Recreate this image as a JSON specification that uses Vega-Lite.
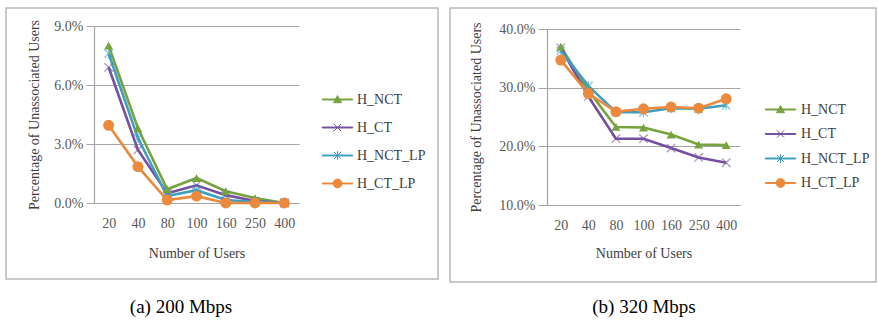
{
  "$schema": "https://vega.github.io/schema/vega-lite/v6.json",
  "padding": {"left": 5, "top": 7, "right": 0, "bottom": 0},
  "spacing": 10,
  "datasets": {
    "bw200": [
      {"users": "20", "series": "H_NCT", "value": 0.080},
      {"users": "40", "series": "H_NCT", "value": 0.038},
      {"users": "80", "series": "H_NCT", "value": 0.007},
      {"users": "100", "series": "H_NCT", "value": 0.0127},
      {"users": "160", "series": "H_NCT", "value": 0.006},
      {"users": "250", "series": "H_NCT", "value": 0.0025},
      {"users": "400", "series": "H_NCT", "value": 0.0},
      {"users": "20", "series": "H_CT", "value": 0.069},
      {"users": "40", "series": "H_CT", "value": 0.027},
      {"users": "80", "series": "H_CT", "value": 0.005},
      {"users": "100", "series": "H_CT", "value": 0.009},
      {"users": "160", "series": "H_CT", "value": 0.004},
      {"users": "250", "series": "H_CT", "value": 0.001},
      {"users": "400", "series": "H_CT", "value": 0.0},
      {"users": "20", "series": "H_NCT_LP", "value": 0.076},
      {"users": "40", "series": "H_NCT_LP", "value": 0.033},
      {"users": "80", "series": "H_NCT_LP", "value": 0.0035},
      {"users": "100", "series": "H_NCT_LP", "value": 0.0065},
      {"users": "160", "series": "H_NCT_LP", "value": 0.0015},
      {"users": "250", "series": "H_NCT_LP", "value": 0.0005},
      {"users": "400", "series": "H_NCT_LP", "value": 0.0},
      {"users": "20", "series": "H_CT_LP", "value": 0.0395},
      {"users": "40", "series": "H_CT_LP", "value": 0.0185},
      {"users": "80", "series": "H_CT_LP", "value": 0.0015},
      {"users": "100", "series": "H_CT_LP", "value": 0.0035},
      {"users": "160", "series": "H_CT_LP", "value": 0.0},
      {"users": "250", "series": "H_CT_LP", "value": 0.0},
      {"users": "400", "series": "H_CT_LP", "value": 0.0}
    ],
    "bw320": [
      {"users": "20", "series": "H_NCT", "value": 0.370},
      {"users": "40", "series": "H_NCT", "value": 0.295},
      {"users": "80", "series": "H_NCT", "value": 0.233},
      {"users": "100", "series": "H_NCT", "value": 0.232},
      {"users": "160", "series": "H_NCT", "value": 0.220},
      {"users": "250", "series": "H_NCT", "value": 0.203},
      {"users": "400", "series": "H_NCT", "value": 0.202},
      {"users": "20", "series": "H_CT", "value": 0.368},
      {"users": "40", "series": "H_CT", "value": 0.285},
      {"users": "80", "series": "H_CT", "value": 0.213},
      {"users": "100", "series": "H_CT", "value": 0.213},
      {"users": "160", "series": "H_CT", "value": 0.197},
      {"users": "250", "series": "H_CT", "value": 0.181},
      {"users": "400", "series": "H_CT", "value": 0.172},
      {"users": "20", "series": "H_NCT_LP", "value": 0.363},
      {"users": "40", "series": "H_NCT_LP", "value": 0.303},
      {"users": "80", "series": "H_NCT_LP", "value": 0.258},
      {"users": "100", "series": "H_NCT_LP", "value": 0.258},
      {"users": "160", "series": "H_NCT_LP", "value": 0.265},
      {"users": "250", "series": "H_NCT_LP", "value": 0.264},
      {"users": "400", "series": "H_NCT_LP", "value": 0.270},
      {"users": "20", "series": "H_CT_LP", "value": 0.347},
      {"users": "40", "series": "H_CT_LP", "value": 0.290},
      {"users": "80", "series": "H_CT_LP", "value": 0.259},
      {"users": "100", "series": "H_CT_LP", "value": 0.264},
      {"users": "160", "series": "H_CT_LP", "value": 0.267},
      {"users": "250", "series": "H_CT_LP", "value": 0.265},
      {"users": "400", "series": "H_CT_LP", "value": 0.281}
    ]
  },
  "config": {
    "view": {"stroke": "#b8b8b8", "strokeWidth": 1.5},
    "font": "Liberation Serif",
    "title": {"font": "Liberation Serif"},
    "axis": {
      "labelFont": "Liberation Serif",
      "titleFont": "Liberation Serif",
      "labelFontSize": 14,
      "titleFontSize": 14,
      "labelColor": "#595959",
      "titleColor": "#404040",
      "titleFontWeight": "normal",
      "tickColor": "#a6a6a6",
      "domainColor": "#a6a6a6",
      "gridColor": "#a6a6a6",
      "domainWidth": 1.2,
      "gridWidth": 1
    },
    "legend": {
      "labelFont": "Liberation Serif",
      "labelFontSize": 14,
      "labelColor": "#404040"
    }
  },
  "resolve": {"scale": {"color": "independent", "x": "independent", "y": "independent"}},
  "hconcat": [
    {
      "width": 432,
      "height": 271,
      "title": {"text": "(a) 200 Mbps", "orient": "bottom", "anchor": "middle", "offset": 19, "dx": -41, "fontSize": 19, "fontWeight": "normal", "color": "#000000"},
      "data": {"name": "bw200"},
      "encoding": {
        "x": {"field": "users", "type": "ordinal", "title": "Number of Users",
              "scale": {"type": "point", "domain": ["20", "40", "80", "100", "160", "250", "400"], "range": [88, 293], "padding": 0.5},
              "axis": {"offset": -76, "labelAngle": 0, "grid": false, "ticks": false, "labelPadding": 13, "titlePadding": 16}},
        "y": {"field": "value", "type": "quantitative", "title": "Percentage of Unassociated Users",
              "scale": {"domain": [0, 0.09], "range": [195, 18], "nice": false, "zero": false},
              "axis": {"offset": -88, "values": [0, 0.03, 0.06, 0.09], "format": ".1%", "grid": true, "ticks": true, "tickSize": 8, "labelPadding": 3, "titlePadding": 12}}
      },
      "layer": [
        {
          "mark": {"type": "line", "strokeWidth": 2.6},
          "encoding": {
            "color": {"field": "series", "type": "nominal",
              "scale": {"domain": ["H_NCT", "H_CT", "H_NCT_LP", "H_CT_LP"], "range": ["#77a33f", "#7451a0", "#3e9fbf", "#eb8a3c"]},
              "legend": {"title": null, "orient": "none", "legendX": 323, "legendY": 83, "padding": 0, "rowPadding": 12, "symbolSize": 256, "labelOffset": 11,
                "encode": {"symbols": {"update": {
                  "shape": {"signal": "datum.value === 'H_NCT' ? 'M-1.9,-0.06L1.9,-0.06L1.9,0.06L-1.9,0.06ZM0,-0.5L0.5,0.4L-0.5,0.4Z' : datum.value === 'H_CT' ? 'M-1.9,-0.06L1.9,-0.06L1.9,0.06L-1.9,0.06ZM-0.45,-0.45L0.45,0.45M-0.45,0.45L0.45,-0.45' : datum.value === 'H_NCT_LP' ? 'M-1.9,-0.06L1.9,-0.06L1.9,0.06L-1.9,0.06ZM-0.45,-0.45L0.45,0.45M-0.45,0.45L0.45,-0.45M0,-0.55L0,0.55' : 'M-1.9,-0.06L1.9,-0.06L1.9,0.06L-1.9,0.06ZM0.55,0A0.55,0.55,0,1,1,-0.55,0A0.55,0.55,0,1,1,0.55,0Z'"},
                  "fill": {"signal": "datum.value === 'H_NCT' ? '#77a33f' : datum.value === 'H_CT' ? '#7451a0' : datum.value === 'H_NCT_LP' ? '#3e9fbf' : '#eb8a3c'"},
                  "stroke": {"signal": "datum.value === 'H_NCT' ? '#77a33f' : datum.value === 'H_CT' ? '#7451a0' : datum.value === 'H_NCT_LP' ? '#3e9fbf' : '#eb8a3c'"},
                  "strokeWidth": {"value": 1},
                  "fillOpacity": {"value": 1},
                  "opacity": {"value": 1}
                }}}}
            }
          }
        },
        {
          "transform": [{"filter": "datum.series === 'H_CT'"}],
          "mark": {"type": "point", "filled": false, "shape": "M-1,-1L1,1M-1,1L1,-1", "size": 70, "color": "#7451a0", "strokeWidth": 1.3, "opacity": 0.6},
          "encoding": {}
        },
        {
          "transform": [{"filter": "datum.series === 'H_NCT_LP'"}],
          "mark": {"type": "point", "filled": false, "shape": "M-1,-1L1,1M-1,1L1,-1M0,-1.2L0,1.2", "size": 70, "color": "#3e9fbf", "strokeWidth": 1.3, "opacity": 0.6},
          "encoding": {}
        },
        {
          "transform": [{"filter": "datum.series === 'H_NCT'"}],
          "mark": {"type": "point", "filled": true, "shape": "triangle-up", "size": 80, "color": "#77a33f", "opacity": 1},
          "encoding": {}
        },
        {
          "transform": [{"filter": "datum.series === 'H_CT_LP'"}],
          "mark": {"type": "point", "filled": true, "shape": "circle", "size": 120, "color": "#eb8a3c", "opacity": 1},
          "encoding": {}
        }
      ]
    },
    {
      "width": 426,
      "height": 274,
      "title": {"text": "(b) 320 Mbps", "orient": "bottom", "anchor": "middle", "offset": 16, "dx": -19, "fontSize": 19, "fontWeight": "normal", "color": "#000000"},
      "data": {"name": "bw320"},
      "encoding": {
        "x": {"field": "users", "type": "ordinal", "title": "Number of Users",
              "scale": {"type": "point", "domain": ["20", "40", "80", "100", "160", "250", "400"], "range": [97, 290], "padding": 0.5},
              "axis": {"offset": -77, "labelAngle": 0, "grid": false, "ticks": false, "labelPadding": 13, "titlePadding": 14}},
        "y": {"field": "value", "type": "quantitative", "title": "Percentage of Unassociated Users",
              "scale": {"domain": [0.1, 0.4], "range": [197, 21], "nice": false, "zero": false},
              "axis": {"offset": -97, "values": [0.1, 0.2, 0.3, 0.4], "format": ".1%", "grid": true, "ticks": true, "tickSize": 9, "labelPadding": 3, "titlePadding": 15}}
      },
      "layer": [
        {
          "mark": {"type": "line", "strokeWidth": 2.6},
          "encoding": {
            "color": {"field": "series", "type": "nominal",
              "scale": {"domain": ["H_NCT", "H_CT", "H_NCT_LP", "H_CT_LP"], "range": ["#77a33f", "#7451a0", "#3e9fbf", "#eb8a3c"]},
              "legend": {"title": null, "orient": "none", "legendX": 322, "legendY": 93, "padding": 0, "rowPadding": 8.5, "symbolSize": 256, "labelOffset": 12,
                "encode": {"symbols": {"update": {
                  "shape": {"signal": "datum.value === 'H_NCT' ? 'M-1.9,-0.06L1.9,-0.06L1.9,0.06L-1.9,0.06ZM0,-0.5L0.5,0.4L-0.5,0.4Z' : datum.value === 'H_CT' ? 'M-1.9,-0.06L1.9,-0.06L1.9,0.06L-1.9,0.06ZM-0.45,-0.45L0.45,0.45M-0.45,0.45L0.45,-0.45' : datum.value === 'H_NCT_LP' ? 'M-1.9,-0.06L1.9,-0.06L1.9,0.06L-1.9,0.06ZM-0.45,-0.45L0.45,0.45M-0.45,0.45L0.45,-0.45M0,-0.55L0,0.55' : 'M-1.9,-0.06L1.9,-0.06L1.9,0.06L-1.9,0.06ZM0.55,0A0.55,0.55,0,1,1,-0.55,0A0.55,0.55,0,1,1,0.55,0Z'"},
                  "fill": {"signal": "datum.value === 'H_NCT' ? '#77a33f' : datum.value === 'H_CT' ? '#7451a0' : datum.value === 'H_NCT_LP' ? '#3e9fbf' : '#eb8a3c'"},
                  "stroke": {"signal": "datum.value === 'H_NCT' ? '#77a33f' : datum.value === 'H_CT' ? '#7451a0' : datum.value === 'H_NCT_LP' ? '#3e9fbf' : '#eb8a3c'"},
                  "strokeWidth": {"value": 1},
                  "fillOpacity": {"value": 1},
                  "opacity": {"value": 1}
                }}}}
            }
          }
        },
        {
          "transform": [{"filter": "datum.series === 'H_CT'"}],
          "mark": {"type": "point", "filled": false, "shape": "M-1,-1L1,1M-1,1L1,-1", "size": 70, "color": "#7451a0", "strokeWidth": 1.3, "opacity": 0.6},
          "encoding": {}
        },
        {
          "transform": [{"filter": "datum.series === 'H_NCT_LP'"}],
          "mark": {"type": "point", "filled": false, "shape": "M-1,-1L1,1M-1,1L1,-1M0,-1.2L0,1.2", "size": 70, "color": "#3e9fbf", "strokeWidth": 1.3, "opacity": 0.6},
          "encoding": {}
        },
        {
          "transform": [{"filter": "datum.series === 'H_NCT'"}],
          "mark": {"type": "point", "filled": true, "shape": "triangle-up", "size": 80, "color": "#77a33f", "opacity": 1},
          "encoding": {}
        },
        {
          "transform": [{"filter": "datum.series === 'H_CT_LP'"}],
          "mark": {"type": "point", "filled": true, "shape": "circle", "size": 120, "color": "#eb8a3c", "opacity": 1},
          "encoding": {}
        }
      ]
    }
  ]
}
